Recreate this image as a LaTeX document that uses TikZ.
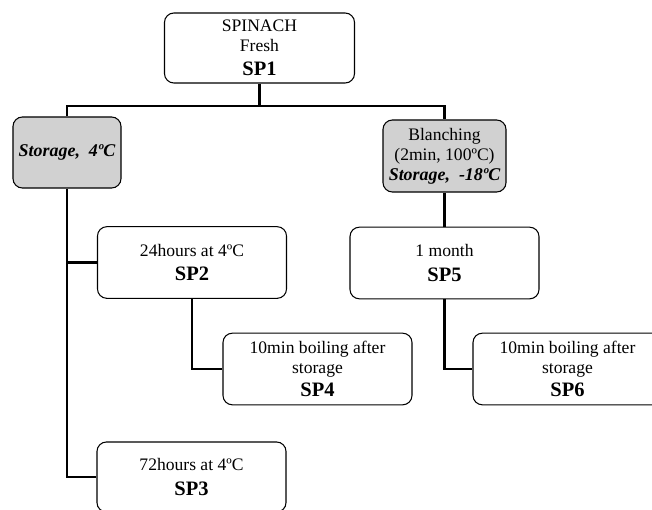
\documentclass[tikz,border=0pt]{standalone}
\usepackage{fontspec}
\setmainfont{Liberation Serif}

\begin{document}
\begin{tikzpicture}[x=0.03cm, y=-0.03cm,
    box/.style={draw, rounded corners=8pt, line width=0.9pt, fill=white, align=center,
      minimum width=5.67cm, minimum height=2.15cm, inner sep=1pt,
      font=\fontsize{15pt}{17pt}\selectfont},
    greybox/.style={box, fill=gray!36},
    link/.style={line width=2.4pt}]
    \newcommand{\splabel}[1]{{\fontsize{17.5pt}{17pt}\selectfont\bfseries #1}}
    \newcommand{\condlabel}[1]{{\fontsize{15.3pt}{17pt}\selectfont\bfseries\itshape #1}}
    \useasboundingbox (0,0) rectangle (652,509);
    \node[box, minimum width=5.7cm, minimum height=2.1cm] (sp1) at (259.5,48) {SPINACH\\Fresh\\[3.4pt]\splabel{SP1}};
    \node[greybox, minimum width=3.24cm, minimum height=2.13cm] (st4) at (67,152.5) {\condlabel{Storage,\ \ 4ºC}};
    \node[greybox, minimum width=3.69cm, minimum height=2.16cm] (blanch) at (444.5,156) {Blanching\\(2min, 100ºC)\\\condlabel{Storage,\ \ -18ºC}};
    \node[box] (sp2) at (192,262.5) {24hours at 4ºC\\[4pt]\splabel{SP2}};
    \node[box] (sp5) at (444.5,263) {1 month\\[4pt]\splabel{SP5}};
    \node[box] (sp4) at (317.5,369) {10min boiling after\\storage\\[3.4pt]\splabel{SP4}};
    \node[box] (sp6) at (567.5,369) {10min boiling after\\storage\\[3.4pt]\splabel{SP6}};
    \node[box, minimum height=2.1cm] (sp3) at (191.5,477) {72hours at 4ºC\\[4pt]\splabel{SP3}};
    \coordinate (bus) at (259.5,106);
    % tree lines
    \draw[link] (sp1.south) -- (bus);
    \draw[link] (st4.north) |- (bus) -| (blanch.north);
    \draw[link] (st4.south) |- (sp3.west);
    \draw[link] (st4.south |- sp2.west) -- (sp2.west);
    \draw[link] (sp2.south) |- (sp4.west);
    \draw[link] (blanch.south) -- (sp5.north);
    \draw[link] (sp5.south) |- (sp6.west);
\end{tikzpicture}
\end{document}
